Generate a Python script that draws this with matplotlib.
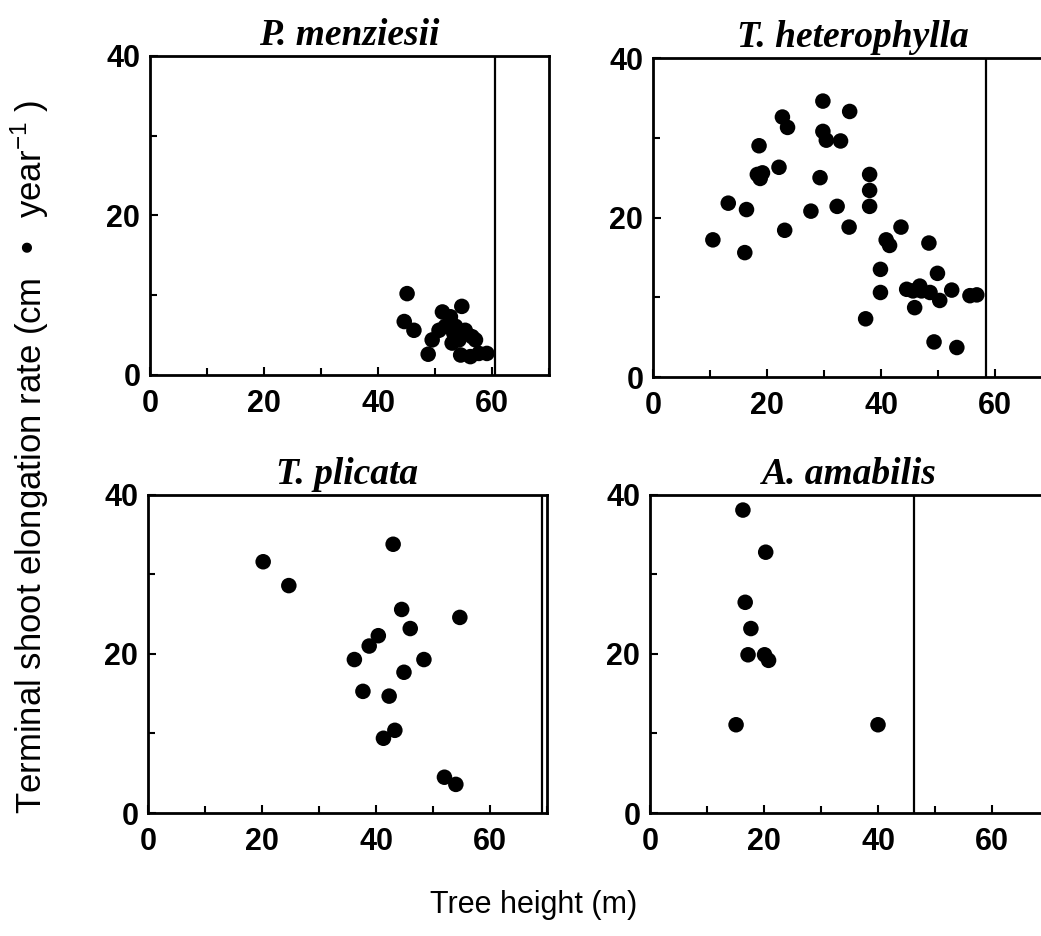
import matplotlib
matplotlib.use('Agg')
import matplotlib.pyplot as plt
from matplotlib.ticker import MultipleLocator

plt.rcParams['font.family'] = 'Liberation Sans'

# P. menziesii
pm_x = [45.1, 44.6, 46.3, 48.8, 51.3, 52.7, 54.7, 49.5, 50.7, 51.8, 53.3, 54.2,
        55.3, 56.5, 53.0, 54.5, 56.2, 57.7, 59.1, 53.6, 57.1]
pm_y = [10.2, 6.7, 5.6, 2.6, 7.9, 7.3, 8.6, 4.4, 5.6, 6.1, 5.2, 4.4,
        5.6, 4.8, 4.0, 2.5, 2.3, 2.7, 2.7, 6.1, 4.4]

# T. heterophylla
th_x = [10.5, 13.2, 16.1, 16.4, 18.6, 18.3, 18.8, 19.2, 22.1, 22.7, 23.6, 23.1,
        27.7, 29.3, 29.8, 29.8, 30.4, 32.9, 32.3, 34.5, 34.4, 38.0, 38.0, 38.0,
        37.3, 39.9, 39.9, 40.9, 41.5, 43.5, 48.4, 49.9, 44.5, 46.8, 47.1, 48.6,
        45.9, 50.3, 52.4, 55.6, 56.8, 49.3, 53.3, 45.6]
th_y = [17.2, 21.8, 15.6, 21.0, 29.0, 25.4, 24.9, 25.6, 26.3, 32.6, 31.3, 18.4,
        20.8, 25.0, 34.6, 30.8, 29.7, 29.6, 21.4, 33.3, 18.8, 25.4, 23.4, 21.4,
        7.3, 13.5, 10.6, 17.2, 16.5, 18.8, 16.8, 13.0, 11.0, 11.4, 10.8, 10.6,
        8.7, 9.6, 10.9, 10.2, 10.3, 4.4, 3.7, 10.8]

# T. plicata
tp_x = [20.2, 24.7, 43.0, 44.5, 54.7, 46.0, 40.4, 38.8, 36.2, 48.4, 44.9, 37.7,
        42.3, 43.3, 41.3, 52.0, 54.0]
tp_y = [31.6, 28.6, 33.8, 25.6, 24.6, 23.2, 22.3, 21.0, 19.3, 19.3, 17.7, 15.3,
        14.7, 10.4, 9.4, 4.5, 3.6]

# A. amabilis
aa_x = [16.3, 20.3, 16.7, 17.7, 17.2, 20.1, 20.8, 15.1, 40.0]
aa_y = [38.1, 32.8, 26.5, 23.2, 19.9, 19.9, 19.2, 11.1, 11.1]

titles = ['P. menziesii', 'T. heterophylla', 'T. plicata', 'A. amabilis']
max_heights = [60.5, 58.4, 69.2, 46.3]
xs = [pm_x, th_x, tp_x, aa_x]
ys = [pm_y, th_y, tp_y, aa_y]

positions = [
    [0.1441, 0.5994, 0.3833, 0.3408],
    [0.6273, 0.5972, 0.3833, 0.3408],
    [0.1422, 0.1314, 0.3833, 0.3398],
    [0.6244, 0.1314, 0.3833, 0.3398],
]

fig = plt.figure(figsize=(10.41, 9.36), dpi=100)

for i in range(4):
    ax = fig.add_axes(positions[i])
    ax.scatter(xs[i], ys[i], s=125, color='black', edgecolors='none', zorder=3)
    ax.axvline(max_heights[i], color='black', lw=1.6)
    ax.set_xlim(0, 70)
    ax.set_ylim(0, 40)
    ax.xaxis.set_major_locator(MultipleLocator(20))
    ax.xaxis.set_minor_locator(MultipleLocator(10))
    ax.yaxis.set_major_locator(MultipleLocator(20))
    ax.yaxis.set_minor_locator(MultipleLocator(10))
    ax.tick_params(which='both', direction='in', width=1.5, labelsize=22)
    ax.tick_params(which='major', length=6)
    ax.tick_params(which='minor', length=5)
    ax.tick_params(axis='x', pad=10)
    ax.tick_params(axis='y', pad=7)
    for lab in ax.get_xticklabels() + ax.get_yticklabels():
        lab.set_fontweight('bold')
    for sp in ax.spines.values():
        sp.set_linewidth(2)
    ax.set_title(titles[i], family='Liberation Serif', style='italic',
                 weight='bold', fontsize=27, pad=8)

fig.text(0.513, 1 - 905 / 936, 'Tree height (m)', ha='center', va='center',
         fontsize=22)
fig.text(30 / 1041, 1 - 457 / 936,
         r'Terminal shoot elongation rate (cm  •  year$^{\mathregular{-1}}$ )',
         rotation=90, ha='center', va='center', fontsize=25)

fig.savefig('out.png', dpi=100)
